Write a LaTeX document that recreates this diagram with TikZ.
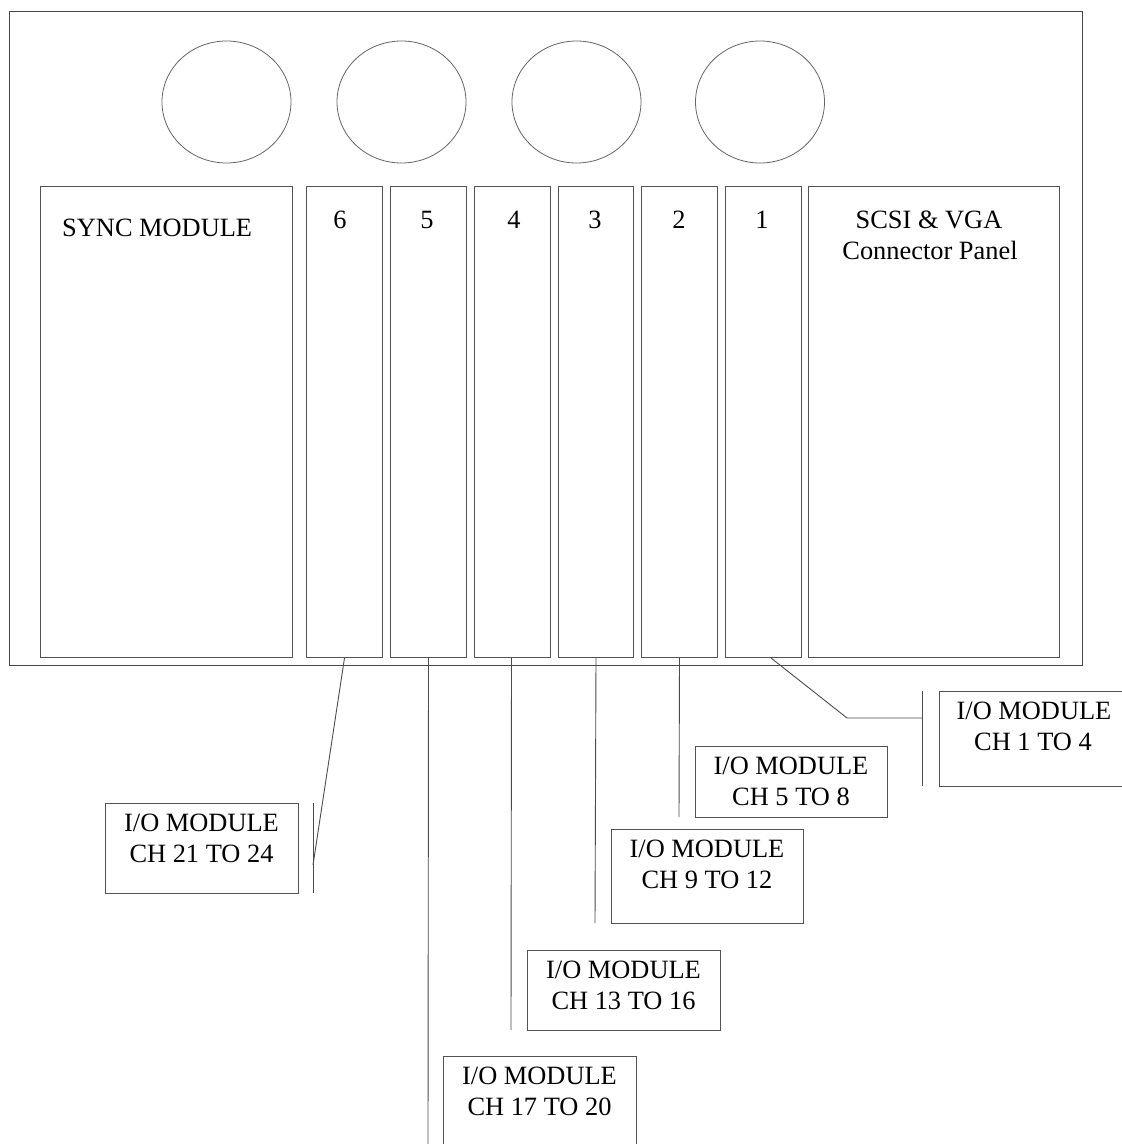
\documentclass[tikz,border=0pt]{standalone}
\usepackage{fontspec}
\setmainfont{Liberation Serif}
\usetikzlibrary{shapes.geometric}
\begin{document}
\begin{tikzpicture}[x=1pt,y=-1pt,
  frame/.style={draw=black!72,line width=1.1pt},
  panel/.style={draw=black!68,line width=1pt,inner sep=0pt,anchor=north west},
  hole/.style={draw=black!60,line width=0.8pt,ellipse,inner sep=0pt,minimum width=129,minimum height=122},
  iobox/.style={draw=black!68,line width=1pt,inner sep=0pt,anchor=north west},
  lbl/.style={inner sep=0pt,font=\fontsize{26.4}{30}\selectfont},
  wire/.style={draw=black!70,line width=0.9pt}]
\useasboundingbox (0,0) rectangle (1122,1144);
\fill[white] (0,0) rectangle (1122,1144);
% chassis
\node[frame,inner sep=0pt,anchor=north west,minimum width=1073,minimum height=654] (chassis) at (9,11) {};
% holes
\node[hole] (c1) at (226.5,102) {};
\node[hole] (c2) at (401.5,102) {};
\node[hole] (c3) at (576.5,102) {};
\node[hole] (c4) at (760,102) {};
% panels
\node[panel,minimum width=252,minimum height=471] (sync) at (40,186) {};
\node[panel,minimum width=76,minimum height=471] (s6) at (306,186) {};
\node[panel,minimum width=76,minimum height=471] (s5) at (390,186) {};
\node[panel,minimum width=76,minimum height=471] (s4) at (474,186) {};
\node[panel,minimum width=75,minimum height=471] (s3) at (558,186) {};
\node[panel,minimum width=76,minimum height=471] (s2) at (641,186) {};
\node[panel,minimum width=76,minimum height=471] (s1) at (725,186) {};
\node[panel,minimum width=251,minimum height=471] (scsi) at (808,186) {};
% panel labels
\node[lbl,anchor=base west] (tsync) at (62,236) {SYNC MODULE};
\node[lbl,anchor=base] (t6) at (340,228) {6};
\node[lbl,anchor=base] (t5) at (427,228) {5};
\node[lbl,anchor=base] (t4) at (514,228) {4};
\node[lbl,anchor=base] (t3) at (595,228) {3};
\node[lbl,anchor=base] (t2) at (679,228) {2};
\node[lbl,anchor=base] (t1) at (762,228) {1};
\node[lbl,anchor=base] (tscsi1) at (929,228) {SCSI \& VGA};
\node[lbl,anchor=base] (tscsi2) at (930,259) {Connector Panel};
% I/O module boxes
\node[iobox,minimum width=190,minimum height=95] (io1) at (939,691) {};
\node[iobox,minimum width=192,minimum height=71] (io2) at (695,746) {};
\node[iobox,minimum width=192,minimum height=94] (io3) at (611,829) {};
\node[iobox,minimum width=193,minimum height=80] (io4) at (527,950) {};
\node[iobox,minimum width=193,minimum height=100] (io5) at (443,1056) {};
\node[iobox,minimum width=193,minimum height=90] (io6) at (105,803) {};
\node[lbl,anchor=base] (io1a) at (1034,719) {I/O MODULE};
\node[lbl,anchor=base] (io1b) at (1033,750) {CH 1 TO 4};
\node[lbl,anchor=base] (io2a) at (791,774) {I/O MODULE};
\node[lbl,anchor=base] (io2b) at (791,805) {CH 5 TO 8};
\node[lbl,anchor=base] (io3a) at (707,857) {I/O MODULE};
\node[lbl,anchor=base] (io3b) at (707,888) {CH 9 TO 12};
\node[lbl,anchor=base] (io4a) at (623.5,978) {I/O MODULE};
\node[lbl,anchor=base] (io4b) at (623.5,1009) {CH 13 TO 16};
\node[lbl,anchor=base] (io5a) at (539.5,1084) {I/O MODULE};
\node[lbl,anchor=base] (io5b) at (539.5,1115) {CH 17 TO 20};
\node[lbl,anchor=base] (io6a) at (201.5,831) {I/O MODULE};
\node[lbl,anchor=base] (io6b) at (201.5,862) {CH 21 TO 24};
% wire end points
\coordinate (e6) at (313,865);
\coordinate (k6a) at (313,803);
\coordinate (k6b) at (313,893);
\coordinate (e5) at (428,1146);
\coordinate (e4) at (511,1030);
\coordinate (e3) at (595,923);
\coordinate (e2) at (679,817);
\coordinate (b1) at (847,718);
\coordinate (e1) at (922,718);
\coordinate (k1a) at (922,691);
\coordinate (k1b) at (922,786);
% wires
\draw[wire] ([xshift=0pt]s6.south) -- (e6);
\draw[wire] (k6a) -- (k6b);
\draw[wire] (s5.south) -- (e5);
\draw[wire] ([xshift=-1pt]s4.south) -- (e4);
\draw[wire] (s3.south) -- (e3);
\draw[wire] (s2.south) -- (e2);
\draw[wire] ([xshift=7.5pt]s1.south) -- (b1) -- (e1);
\draw[wire] (k1a) -- (k1b);
\end{tikzpicture}
\end{document}
